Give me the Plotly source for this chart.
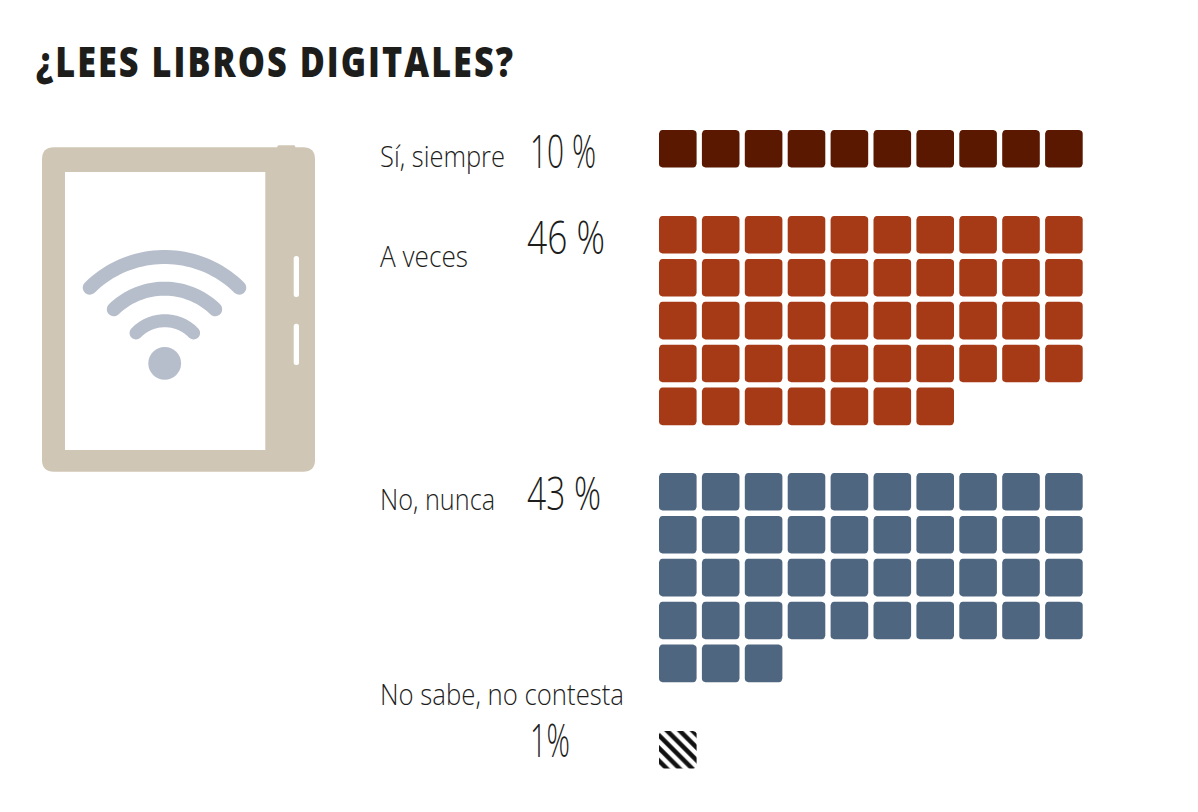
import json
import numpy as np
import plotly.graph_objects as go

TITLE = "¿LEES LIBROS DIGITALES?"
categories = ["Sí, siempre", "A veces", "No, nunca", "No sabe, no contesta"]
percent_labels = ["10 %", "46 %", "43 %", "1%"]
cell_counts = [10, 47, 43, 1]
colors = ["#5A1800", "#A63A16", "#4F6680", None]

group_tops = [130, 216, 473, 731]
cat_pos = [(380, 155.5), (380, 255), (380, 498), (380, 693)]
pct_pos = [(530, 150), (527, 236), (527, 492), (530, 739)]
cat_widths = [125, 88, 115, 244]
pct_widths = [66, 78, 74, 40]

X0, PITCH, CELL, RAD, PER_ROW = 659, 42.9, 37.6, 3.5, 10
TEXT = "#1D1D1B"
W, H = 1198, 812

FONT = "Open Sans, Noto Sans, sans-serif"


def cell_outline(x, y, s, r, n=5):
    a = np.linspace(0, np.pi / 2, n)
    corners = [
        (x + s - r, y + r, -np.pi / 2),
        (x + s - r, y + s - r, 0),
        (x + r, y + s - r, np.pi / 2),
        (x + r, y + r, np.pi),
    ]
    xs, ys = [], []
    for cx, cy, st in corners:
        xs += list(cx + r * np.cos(st + a))
        ys += list(cy + r * np.sin(st + a))
    xs += [xs[0], None]
    ys += [ys[0], None]
    return xs, ys


def waffle(count, top):
    xs, ys = [], []
    for i in range(count):
        col, row = i % PER_ROW, i // PER_ROW
        a, b = cell_outline(X0 + col * PITCH, top + row * PITCH, CELL, RAD)
        xs += a
        ys += b
    return xs, ys


def rrect(x0, y0, x1, y1, r):
    return (
        f"M{x0+r},{y0} L{x1-r},{y0} Q{x1},{y0} {x1},{y0+r} L{x1},{y1-r} "
        f"Q{x1},{y1} {x1-r},{y1} L{x0+r},{y1} Q{x0},{y1} {x0},{y1-r} "
        f"L{x0},{y0+r} Q{x0},{y0} {x0+r},{y0} Z"
    )


def arc_band(cx, cy, r, half_chord, w):
    t = np.arcsin(half_chord / r)
    ang = np.linspace(-t, t, 40)
    outer = [(cx + (r + w / 2) * np.sin(a), cy - (r + w / 2) * np.cos(a)) for a in ang]
    inner = [(cx + (r - w / 2) * np.sin(a), cy - (r - w / 2) * np.cos(a)) for a in ang[::-1]]
    ex, ey = cx + r * np.sin(t), cy - r * np.cos(t)
    sx, sy = cx - r * np.sin(t), cy - r * np.cos(t)
    cap_a = np.linspace(0, np.pi, 12)
    cap_end = [(ex + w / 2 * np.sin(t + c), ey - w / 2 * np.cos(t + c)) for c in cap_a]
    cap_start = [(sx + w / 2 * np.sin(-t + np.pi + c), sy - w / 2 * np.cos(-t + np.pi + c)) for c in cap_a]
    pts = outer + cap_end + inner + cap_start
    return "M" + " L".join(f"{x:.2f},{y:.2f}" for x, y in pts) + " Z"


fig = go.Figure()
for cat, val, col, top in zip(categories, cell_counts, colors, group_tops):
    xs, ys = waffle(val, top)
    kw = dict(fillcolor=col) if col else dict(
        fillcolor="#FFFFFF",
        fillpattern=dict(shape="\\", fgcolor="#111111", bgcolor="#FFFFFF", fgopacity=1,
                         size=9, solidity=0.5),
    )
    fig.add_trace(go.Scatter(x=xs, y=ys, mode="lines", fill="toself", line=dict(width=0),
                             name=cat, hoverinfo="skip", showlegend=False, **kw))

DEV, WIFI = "#CFC6B5", "#B7BECB"
shapes = [
    dict(type="path", path=rrect(277.3, 145.3, 295.3, 152, 1.5), fillcolor=DEV, line_width=0),
    dict(type="path", path=rrect(42, 147.3, 315, 471.7, 12), fillcolor=DEV, line_width=0),
    dict(type="rect", x0=65, x1=265.3, y0=172, y1=450, fillcolor="#FFFFFF", line_width=0),
    dict(type="path", path=rrect(293.7, 256, 299, 297, 2.5), fillcolor="#FFFFFF", line_width=0),
    dict(type="path", path=rrect(293.7, 323.7, 299, 365, 2.5), fillcolor="#FFFFFF", line_width=0),
    dict(type="path", path=arc_band(164.5, 363.5, 106.5, 74.8, 14), fillcolor=WIFI, line_width=0),
    dict(type="path", path=arc_band(164.5, 361.4, 72.7, 50.7, 14), fillcolor=WIFI, line_width=0),
    dict(type="path", path=arc_band(164.8, 360.6, 39.9, 28.8, 13), fillcolor=WIFI, line_width=0),
    dict(type="circle", x0=148.3, x1=181.1, y0=346.9, y1=379.7, fillcolor=WIFI, line_width=0),
]
for s in shapes:
    s["layer"] = "below"

ann = [dict(x=36, y=60, text=TITLE, xanchor="left", yanchor="middle", showarrow=False,
            font=dict(family=FONT, size=42, color=TEXT, weight=800))]
fits = [[36, 479, 2.5]]
for cat, (x, y), w in zip(categories, cat_pos, cat_widths):
    ann.append(dict(x=x, y=y, text=cat, xanchor="left", yanchor="middle", showarrow=False,
                    font=dict(family=FONT, size=30, color=TEXT, weight=300)))
    fits.append([x, w, 0])
for lab, (x, y), w in zip(percent_labels, pct_pos, pct_widths):
    ann.append(dict(x=x, y=y, text=lab, xanchor="left", yanchor="middle", showarrow=False,
                    font=dict(family=FONT, size=46, color=TEXT, weight=300)))
    fits.append([x, w, 0])

fig.update_layout(
    width=W, height=H, autosize=False, margin=dict(l=0, r=0, t=0, b=0),
    paper_bgcolor="#FFFFFF", plot_bgcolor="#FFFFFF", shapes=shapes, annotations=ann,
    xaxis=dict(range=[0, W], visible=False, fixedrange=True),
    yaxis=dict(range=[H, 0], visible=False, fixedrange=True),
    showlegend=False,
)
post = """
document.body.style.margin='0';document.body.style.overflow='hidden';
var fits=%s;
document.querySelectorAll('.annotation-text').forEach(function(el,i){
  var f=fits[i]; if(!f) return;
  if(f[2]) el.style.letterSpacing=f[2]+'px';
  el.setAttribute('textLength',f[1]);
  el.setAttribute('lengthAdjust','spacingAndGlyphs');
  var r=el.getBoundingClientRect();
  var x=parseFloat(el.getAttribute('x')||0);
  el.setAttribute('x',x+(f[0]-r.left));
});
""" % json.dumps(fits)
fig.write_html("out.html", config=dict(displayModeBar=False), post_script=post)
